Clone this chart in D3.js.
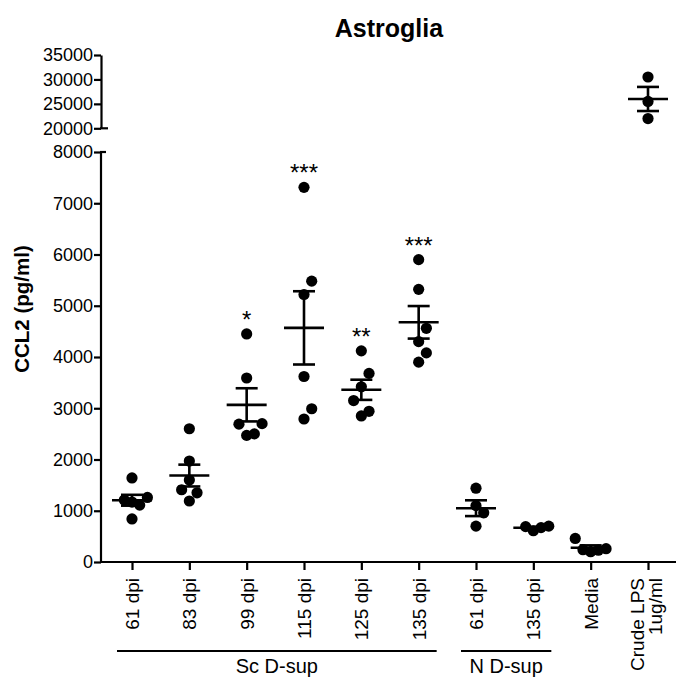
<!DOCTYPE html>
<html>
<head>
<meta charset="utf-8">
<script src="https://cdn.jsdelivr.net/npm/d3@7"></script>
<style>
  body { margin: 0; background: #fff; }
  svg { display: block; }
  text { font-family: "Liberation Sans", Arial, sans-serif; fill: #000; }
</style>
</head>
<body>
<div id="chart"></div>
<script>
// categories on the x axis
const categories = ["61 dpi", "83 dpi", "99 dpi", "115 dpi", "125 dpi", "135 dpi",
                    "61 dpi ", "135 dpi ", "Media", "Crude LPS\n1ug/ml"];

// CCL2 (pg/ml), one array per condition
const sc61 = [1640, 1260, 1210, 1170, 1110, 840];
const sc83 = [2600, 1970, 1600, 1410, 1350, 1190];
const sc99 = [4450, 3590, 2700, 2690, 2470, 2500];
const sc115 = [7310, 5480, 5220, 3620, 2990, 2790];
const sc125 = [4120, 3680, 3420, 3150, 2850, 2940];
const sc135 = [5900, 5320, 4560, 4300, 4080, 3900];
const n61 = [1440, 1100, 960, 700];
const n135 = [700, 690, 610, 670];
const media = [460, 240, 200, 230, 260];
const lps = [30500, 25500, 22000];
const groupValues = [sc61, sc83, sc99, sc115, sc125, sc135, n61, n135, media, lps];

// significance marks
const stars = ["", "", "*", "***", "**", "***", "", "", "", ""];

// bracket groups under the axis
const bracketNames = ["Sc D-sup", "N D-sup"];
const bracketFirst = [0, 6];
const bracketLast = [5, 7];

// tick values of the broken y axis
const lowTicks = [0, 1000, 2000, 3000, 4000, 5000, 6000, 7000, 8000];
const highTicks = [20000, 25000, 30000, 35000];

const width = 676, height = 678;
const axisX = 101;

const svg = d3.select("#chart").append("svg")
    .attr("width", width)
    .attr("height", height);

svg.append("rect").attr("width", width).attr("height", height).attr("fill", "#fff");

const x = d3.scalePoint().domain(categories).range([132, 648]);
const yLow = d3.scaleLinear().domain([0, 8000]).range([562, 152]);
const yHigh = d3.scaleLinear().domain([20000, 35000]).range([128.3, 55]);
function y(v) { return v > 8000 ? yHigh(v) : yLow(v); }

// title
svg.append("text")
    .attr("x", 389).attr("y", 37)
    .attr("text-anchor", "middle")
    .style("font-size", "25px").style("font-weight", "bold")
    .text("Astroglia");

// y label
svg.append("text")
    .attr("transform", "translate(29,309) rotate(-90)")
    .attr("text-anchor", "middle")
    .style("font-size", "20.5px").style("font-weight", "bold")
    .text("CCL2 (pg/ml)");

// y axes (two segments)
function styleAxis(g) {
    g.selectAll("path, line").attr("stroke", "#000").attr("stroke-width", 2.2);
    g.selectAll("text").style("font-size", "18px").style("font-family", "Liberation Sans, Arial, sans-serif");
}

const gLow = svg.append("g").attr("transform", `translate(${axisX},0)`)
    .call(d3.axisLeft(yLow).tickValues(lowTicks).tickSize(7).tickSizeOuter(0).tickPadding(1).tickFormat(d3.format("d")));
styleAxis(gLow);
gLow.select(".domain").attr("d", `M0,${yLow(0)}V${yLow(8000)}`);

const gHigh = svg.append("g").attr("transform", `translate(${axisX},0)`)
    .call(d3.axisLeft(yHigh).tickValues(highTicks).tickSize(7).tickSizeOuter(0).tickPadding(1).tickFormat(d3.format("d")));
styleAxis(gHigh);

// break caps
svg.append("line").attr("x1", axisX - 1).attr("x2", axisX + 7)
    .attr("y1", yHigh(20000)).attr("y2", yHigh(20000))
    .attr("stroke", "#000").attr("stroke-width", 2.2);
svg.append("line").attr("x1", axisX - 1).attr("x2", axisX + 5)
    .attr("y1", yLow(8000)).attr("y2", yLow(8000))
    .attr("stroke", "#000").attr("stroke-width", 2.2);

// x axis
const gx = svg.append("g").attr("transform", `translate(0,${yLow(0)})`)
    .call(d3.axisBottom(x).tickSize(8).tickSizeOuter(0));
gx.select(".domain").remove();
gx.selectAll("line").attr("stroke", "#000").attr("stroke-width", 2.2);
svg.append("line")
    .attr("x1", axisX - 1).attr("x2", width)
    .attr("y1", yLow(0)).attr("y2", yLow(0))
    .attr("stroke", "#000").attr("stroke-width", 2.2);

gx.selectAll("text").each(function (d) {
    const t = d3.select(this);
    t.text(null)
        .attr("transform", "rotate(-90)")
        .attr("x", null).attr("y", null).attr("dy", null)
        .style("text-anchor", "end")
        .style("font-size", "19px")
        .style("font-family", "Liberation Sans, Arial, sans-serif");
    const lines = d.trim().split("\n");
    const offs = lines.length === 1 ? [0] : [-11, 7];
    lines.forEach((ln, i) => {
        t.append("tspan").attr("x", -16).attr("y", offs[i]).attr("dy", "0.35em").text(ln);
    });
});

// brackets under groups
bracketNames.forEach((name, i) => {
    const x0 = x(categories[bracketFirst[i]]) - 15;
    const x1 = x(categories[bracketLast[i]]) + 18;
    svg.append("line").attr("x1", x0).attr("x2", x1)
        .attr("y1", 651).attr("y2", 651)
        .attr("stroke", "#000").attr("stroke-width", 2.2);
    svg.append("text")
        .attr("x", (x0 + x1) / 2).attr("y", 673)
        .attr("text-anchor", "middle")
        .style("font-size", "20px")
        .text(name);
});

// scatter with simple swarm offsets
const r = 5.6, slot = 7.7;
const dotLayer = svg.append("g");
const barLayer = svg.append("g");

groupValues.forEach((vals, gi) => {
    const cx = x(categories[gi]);
    const placed = [];
    vals.slice().sort((a, b) => a - b).forEach(v => {
        const py = y(v);
        const order = [0, 1, -1, 2, -2];
        let k = order.find(o => placed.every(p => p.o !== o || Math.abs(p.y - py) >= 16));
        if (k === undefined) k = 0;
        placed.push({ o: k, y: py });
        dotLayer.append("circle")
            .attr("cx", cx + k * slot).attr("cy", py).attr("r", r)
            .attr("fill", "#000");
    });

    const m = d3.mean(vals);
    const sem = d3.deviation(vals) / Math.sqrt(vals.length);
    const line = (x1, x2, y1, y2) => barLayer.append("line")
        .attr("x1", x1).attr("x2", x2).attr("y1", y1).attr("y2", y2)
        .attr("stroke", "#000").attr("stroke-width", 2.6);
    line(cx - 20, cx + 20, y(m), y(m));
    line(cx, cx, y(m - sem), y(m + sem));
    line(cx - 11, cx + 11, y(m + sem), y(m + sem));
    line(cx - 11, cx + 11, y(m - sem), y(m - sem));

    if (stars[gi]) {
        barLayer.append("text")
            .attr("x", cx).attr("y", y(d3.max(vals)) - 6)
            .attr("text-anchor", "middle")
            .style("font-size", "24px")
            .text(stars[gi]);
    }
});
</script>
</body>
</html>
